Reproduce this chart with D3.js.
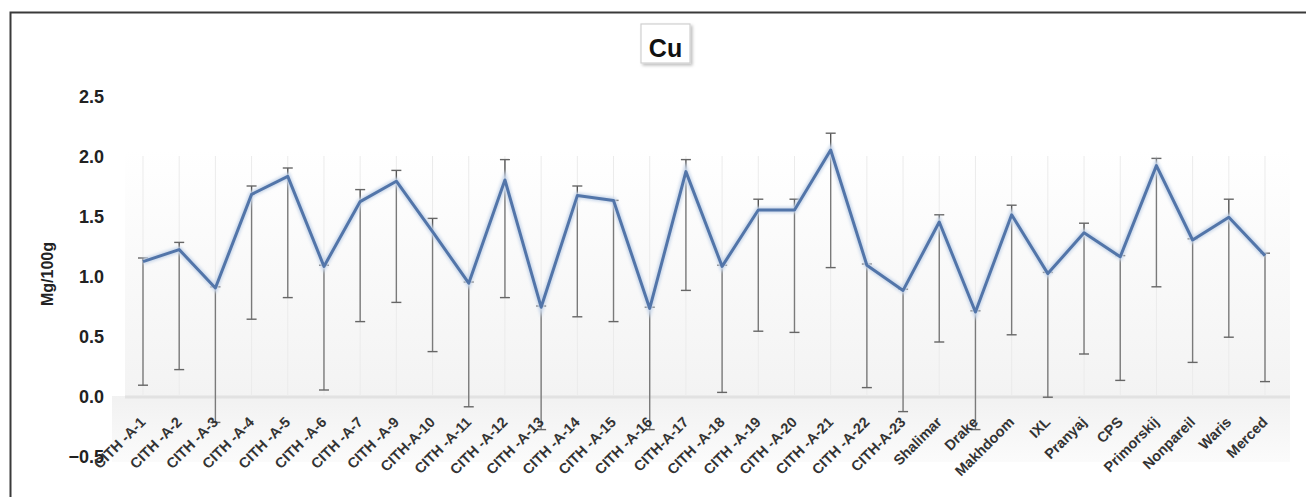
<!DOCTYPE html>
<html><head><meta charset="utf-8">
<script src="https://cdn.jsdelivr.net/npm/d3@7"></script>
<style>body{margin:0;background:#fff;}svg{display:block;font-family:Arial,"Liberation Sans",sans-serif;}</style>
</head><body>
<script>
const categories = ["CITH -A-1","CITH -A-2","CITH -A-3","CITH -A-4","CITH -A-5","CITH -A-6","CITH -A-7","CITH -A-9","CITH-A-10","CITH -A-11","CITH -A-12","CITH -A-13","CITH -A-14","CITH -A-15","CITH -A-16","CITH-A-17","CITH -A-18","CITH -A-19","CITH -A-20","CITH -A-21","CITH -A-22","CITH-A-23","Shalimar","Drake","Makhdoom","IXL","Pranyaj","CPS","Primorskij","Nonpareil","Waris","Merced"];
const values = [1.12,1.22,0.90,1.68,1.83,1.08,1.62,1.79,1.37,0.94,1.80,0.74,1.67,1.63,0.73,1.87,1.08,1.55,1.55,2.05,1.09,0.88,1.45,0.70,1.51,1.02,1.36,1.16,1.92,1.30,1.49,1.17];
const upper = [1.15,1.28,0.91,1.75,1.90,1.09,1.72,1.88,1.48,0.95,1.97,0.75,1.75,1.63,0.74,1.97,1.09,1.64,1.64,2.19,1.10,0.89,1.51,0.71,1.59,1.03,1.44,1.17,1.98,1.31,1.64,1.19];
const lower = [0.09,0.22,-0.22,0.64,0.82,0.05,0.62,0.78,0.37,-0.09,0.82,-0.28,0.66,0.62,-0.28,0.88,0.03,0.54,0.53,1.07,0.07,-0.13,0.45,-0.28,0.51,-0.01,0.35,0.13,0.91,0.28,0.49,0.12];
const yTicks = [-0.5,0.0,0.5,1.0,1.5,2.0,2.5];
const title = "Cu";
const yLabel = "Mg/100g";

const W=1306,H=497;
const svg=d3.select("body").append("svg").attr("width",W).attr("height",H);
const defs=svg.append("defs");
const bg=defs.append("linearGradient").attr("id","bg").attr("x1",0).attr("x2",0).attr("y1",0).attr("y2",1);
bg.append("stop").attr("offset","0%").attr("stop-color","#ffffff");
bg.append("stop").attr("offset","100%").attr("stop-color","#f3f3f3");
const fl=defs.append("linearGradient").attr("id","fl").attr("x1",0).attr("x2",0).attr("y1",0).attr("y2",1);
fl.append("stop").attr("offset","0%").attr("stop-color","#eeeeee");
fl.append("stop").attr("offset","100%").attr("stop-color","#fafafa");
const sh=defs.append("filter").attr("id","sh").attr("x","-20%").attr("y","-20%").attr("width","150%").attr("height","150%");
sh.append("feDropShadow").attr("dx",2).attr("dy",2).attr("stdDeviation",1.5).attr("flood-color","#000").attr("flood-opacity",0.25);
const glow=defs.append("filter").attr("id","glow").attr("x","-5%").attr("y","-20%").attr("width","110%").attr("height","140%");
glow.append("feGaussianBlur").attr("stdDeviation",1.5);

// frame
svg.append("rect").attr("x",10.5).attr("y",12.5).attr("width",W+20).attr("height",H+20)
  .attr("fill","#fff").attr("stroke","#3a3a3a").attr("stroke-width",2);

const x=d3.scalePoint().domain(categories).range([143,1265]);
const y=d3.scaleLinear().domain([-0.5,2.5]).range([456,96]);

// plot background
svg.append("rect").attr("x",125).attr("y",y(2.05)).attr("width",1290-125).attr("height",y(0)-y(2.05)).attr("fill","url(#bg)");
// floor
svg.append("rect").attr("x",112).attr("y",y(0)).attr("width",1290-112).attr("height",66).attr("fill","url(#fl)").attr("opacity",0.8);
svg.append("line").attr("x1",125).attr("x2",1290).attr("y1",y(0)+1).attr("y2",y(0)+1).attr("stroke","#e2e2e2").attr("stroke-width",3);

// vertical light gridlines
svg.append("g").selectAll("line").data(categories).join("line")
  .attr("x1",d=>x(d)).attr("x2",d=>x(d)).attr("y1",y(2.0)).attr("y2",y(0))
  .attr("stroke","#ebebeb").attr("stroke-width",1);

// y axis
const yAxis=d3.axisLeft(y).tickValues(yTicks).tickFormat(d3.format(".1f")).tickSize(0).tickPadding(0);
const ga=svg.append("g").attr("transform","translate(104,0)").call(yAxis);
ga.select(".domain").remove();
ga.attr("font-size",18);
ga.selectAll("text").style("font-size","18px").attr("font-weight","bold").attr("fill","#222").attr("dy","0.35em");

// error bars
const eb=svg.append("g");
categories.forEach((c,i)=>{
  const cx=x(c);
  eb.append("line").attr("x1",cx).attr("x2",cx).attr("y1",y(values[i])).attr("y2",y(lower[i])).attr("stroke","#7a7a7a").attr("stroke-width",1.4);
  eb.append("line").attr("x1",cx).attr("x2",cx).attr("y1",y(upper[i])).attr("y2",y(values[i])).attr("stroke","#555").attr("stroke-width",1.4);
  [upper[i],lower[i]].forEach(v=>{
    eb.append("line").attr("x1",cx-5).attr("x2",cx+5).attr("y1",y(v)).attr("y2",y(v)).attr("stroke","#666").attr("stroke-width",1.4);
  });
});

// line
const line=d3.line().x((d,i)=>x(categories[i])).y(d=>y(d));
svg.append("path").datum(values).attr("d",line).attr("fill","none").attr("stroke","#c9d7ea").attr("stroke-width",6).attr("filter","url(#glow)");
svg.append("path").datum(values).attr("d",line).attr("fill","none").attr("stroke","#5275a9").attr("stroke-width",3).attr("stroke-linejoin","round");

// x labels
const xAxis=d3.axisBottom(x).tickSize(0).tickPadding(0);
const gx=svg.append("g").attr("transform",`translate(0,${y(0)})`).call(xAxis);
gx.select(".domain").remove();
gx.selectAll("text").style("font-size","14.5px").attr("font-weight","bold").attr("fill","#333")
  .attr("text-anchor","end").attr("dy","0").attr("y",0).attr("x",0)
  .attr("transform","translate(3,27) rotate(-45)");

// y label
svg.append("text").attr("transform","translate(53,274) rotate(-90)").attr("text-anchor","middle")
  .attr("font-size",16).attr("font-weight","bold").attr("fill","#222").text(yLabel);

// title
const tg=svg.append("g");
tg.append("rect").attr("x",641).attr("y",24).attr("width",49).attr("height",39).attr("fill","#fff").attr("stroke","#d0d0d0").attr("stroke-width",1.2).attr("filter","url(#sh)");
tg.append("text").attr("x",665.5).attr("y",57).attr("text-anchor","middle").attr("font-size",25).attr("font-weight","bold").attr("fill","#111").text(title);
</script>
</body></html>
